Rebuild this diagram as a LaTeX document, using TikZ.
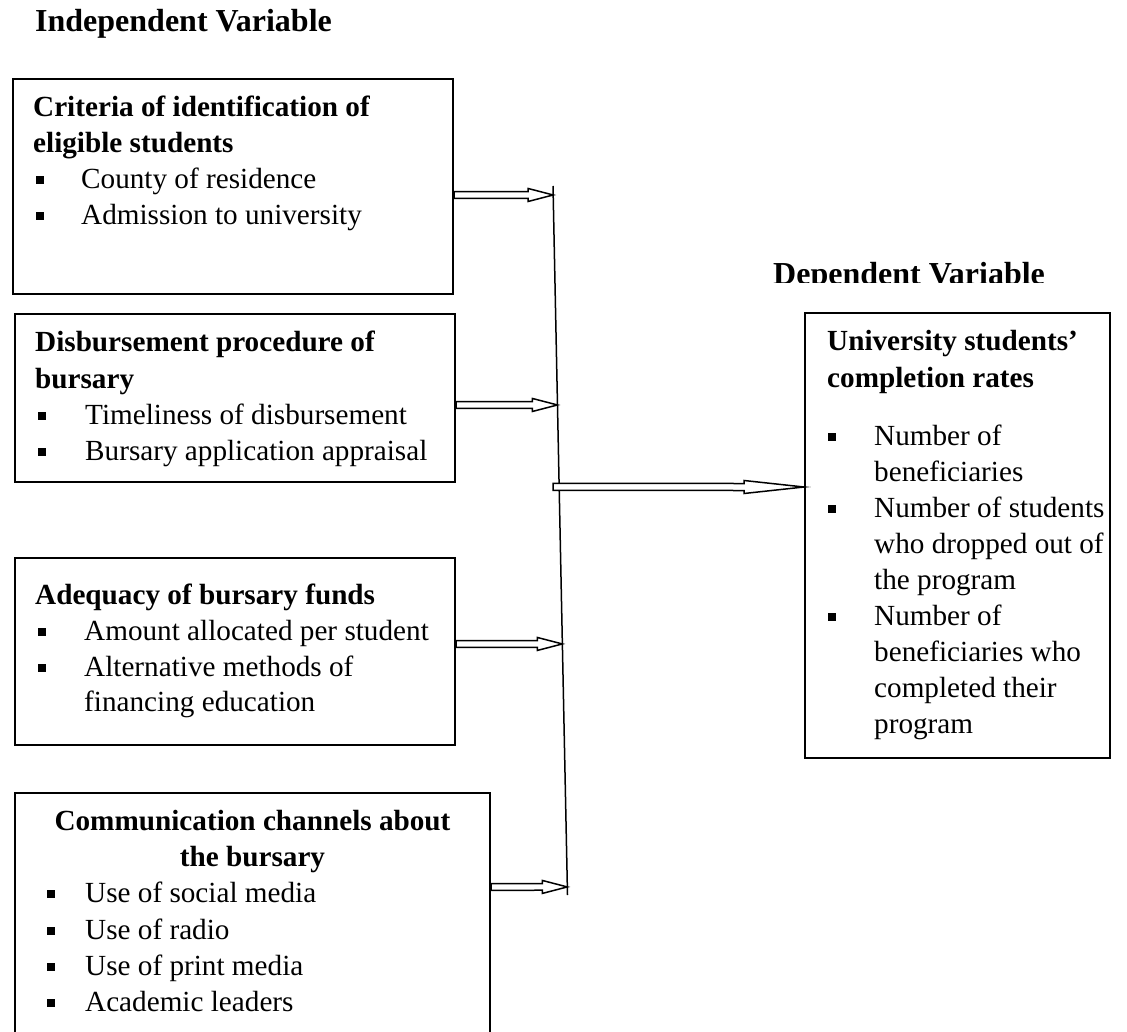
\documentclass[tikz,border=0pt]{standalone}
\usepackage{fontspec}
\setmainfont{Liberation Serif}
\usetikzlibrary{calc,fit}
\newcommand{\bodyfont}{\fontsize{29.2}{36}\selectfont}
\newcommand{\ttlfont}{\fontsize{29.2}{36}\selectfont\bfseries}
\newcommand{\hdfont}{\fontsize{32}{38}\selectfont\bfseries}
\newcommand{\blockarrow}[5]{%
  \draw[arrowline] ($(#1)+(0,-#4)$) -- ($(#2)+(-#3,-#4)$) -- ($(#2)+(-#3,-#5)$) -- (#2)
    -- ($(#2)+(-#3,#5)$) -- ($(#2)+(-#3,#4)$) -- ($(#1)+(0,#4)$) -- cycle;}
\tikzset{
  box/.style={draw, line width=2pt, inner sep=0pt, rectangle},
  lbl/.style={anchor=base west, inner sep=0pt, font=\bodyfont},
  ttl/.style={anchor=base west, inner sep=0pt, font=\ttlfont},
  hdr/.style={anchor=base west, inner sep=0pt, font=\hdfont},
  bulsq/.style={fill=black, inner sep=0pt, minimum size=8pt},
  arrowline/.style={draw=black, fill=white, line width=1.5pt, line join=miter},
  vline/.style={line width=1.5pt}
}
\begin{document}
\begin{tikzpicture}[x=1pt,y=-1pt]
\useasboundingbox (0,0) rectangle (1127,1032);
\clip (0,0) rectangle (1127,1032);
\fill[white] (0,0) rectangle (1127,1032);

% headers
\node[hdr] (hind) at (35,32) {Independent Variable};
\begin{scope}
  \clip (700,240) rectangle (1127,283);
  \node[hdr] (hdep) at (773,284.5) {Dependent Variable};
\end{scope}

% boxes
\node[box, fit={(13,79) (453,294)}] (b1) {};
\node[box, fit={(15,314) (455,482)}] (b2) {};
\node[box, fit={(15,558) (455,745)}] (b3) {};
\node[box, fit={(15,793) (490,1050)}] (b4) {};
\node[box, fit={(805,313) (1110,758)}] (b5) {};

% box 1 text
\node[ttl] (b1t1) at (33,117) {Criteria of identification of};
\node[ttl] (b1t2) at (33,153) {eligible students};
\node[bulsq] (b1m1) at (39.5,180.5) {};
\node[lbl] (b1i1) at (81,189) {County of residence};
\node[bulsq] (b1m2) at (39.5,216.5) {};
\node[lbl] (b1i2) at (81,225) {Admission to university};

% box 2 text
\node[ttl] (b2t1) at (35,352) {Disbursement procedure of};
\node[ttl] (b2t2) at (35,388) {bursary};
\node[bulsq] (b2m1) at (41.5,415.5) {};
\node[lbl] (b2i1) at (85,424) {Timeliness of disbursement};
\node[bulsq] (b2m2) at (41.5,451.5) {};
\node[lbl] (b2i2) at (85,460) {Bursary application appraisal};

% box 3 text
\node[ttl] (b3t1) at (35,604) {Adequacy of bursary funds};
\node[bulsq] (b3m1) at (41.5,631.5) {};
\node[lbl] (b3i1) at (84,640) {Amount allocated per student};
\node[bulsq] (b3m2) at (41.5,667.5) {};
\node[lbl] (b3i2) at (84,676) {Alternative methods of};
\node[lbl] (b3i3) at (84,711) {financing education};

% box 4 text
\node[ttl, anchor=base] (b4t1) at (252.5,830) {Communication channels about};
\node[ttl, anchor=base] (b4t2) at (252.5,866) {the bursary};
\node[bulsq] (b4m1) at (50.5,893.5) {};
\node[lbl] (b4i1) at (85,902) {Use of social media};
\node[bulsq] (b4m2) at (50.5,930.5) {};
\node[lbl] (b4i2) at (85,939) {Use of radio};
\node[bulsq] (b4m3) at (50.5,966.5) {};
\node[lbl] (b4i3) at (85,975) {Use of print media};
\node[bulsq] (b4m4) at (50.5,1002.5) {};
\node[lbl] (b4i4) at (85,1011) {Academic leaders};

% right box text
\node[ttl] (b5t1) at (827,350) {University students’};
\node[ttl] (b5t2) at (827,387) {completion rates};
\node[bulsq] (b5m1) at (832,436.5) {};
\node[lbl] (b5i1) at (874,445) {Number of};
\node[lbl] (b5i2) at (874,481) {beneficiaries};
\node[bulsq] (b5m2) at (832,508.5) {};
\node[lbl] (b5i3) at (874,517) {Number of students};
\node[lbl] (b5i4) at (874,553) {who dropped out of};
\node[lbl] (b5i5) at (874,589) {the program};
\node[bulsq] (b5m3) at (832,616.5) {};
\node[lbl] (b5i6) at (874,625) {Number of};
\node[lbl] (b5i7) at (874,661) {beneficiaries who};
\node[lbl] (b5i8) at (874,697) {completed their};
\node[lbl] (b5i9) at (874,733) {program};

% collector line
\coordinate (ltop) at (553,186);
\coordinate (lbot) at (567.5,895);
\draw[vline] (ltop) -- (lbot);

% arrow rows
\coordinate (y1) at (0,195);
\coordinate (y2) at (0,405);
\coordinate (y3) at (0,644);
\coordinate (y4) at (0,887);
\coordinate (y5) at (0,487);
\coordinate (y5r) at (1000,487);

\coordinate (a1s) at (b1.east |- y1);
\coordinate (a2s) at (b2.east |- y2);
\coordinate (a3s) at (b3.east |- y3);
\coordinate (a4s) at (b4.east |- y4);
\coordinate (a1t) at (intersection of ltop--lbot and a1s--y1);
\coordinate (a2t) at (intersection of ltop--lbot and a2s--y2);
\coordinate (a3t) at (intersection of ltop--lbot and a3s--y3);
\coordinate (a4t) at (intersection of ltop--lbot and a4s--y4);
\coordinate (a5m) at (intersection of ltop--lbot and y5--y5r);
\coordinate (a5s) at ($(a5m)+(-6,0)$);
\coordinate (a5t) at (b5.west |- y5);

\blockarrow{a1s}{a1t}{25}{3.3}{6.5}
\blockarrow{a2s}{a2t}{25}{3.3}{6.5}
\blockarrow{a3s}{a3t}{25}{3.3}{6.5}
\blockarrow{a4s}{a4t}{25}{3.3}{6.5}
\blockarrow{a5s}{a5t}{60}{3.5}{6.5}
\end{tikzpicture}
\end{document}
